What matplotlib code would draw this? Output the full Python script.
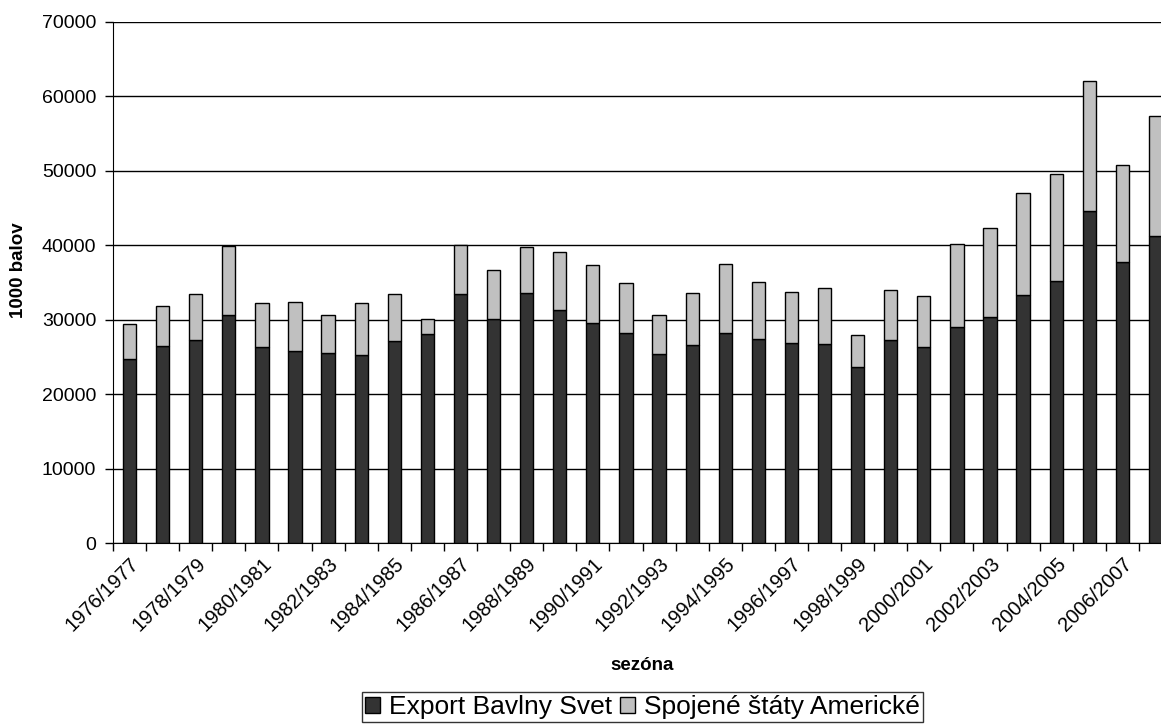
import matplotlib
matplotlib.use("Agg")
import matplotlib.pyplot as plt
import matplotlib.transforms as mtransforms
import numpy as np

seasons = ["1976/1977", "1977/1978", "1978/1979", "1979/1980", "1980/1981", "1981/1982",
           "1982/1983", "1983/1984", "1984/1985", "1985/1986", "1986/1987", "1987/1988",
           "1988/1989", "1989/1990", "1990/1991", "1991/1992", "1992/1993", "1993/1994",
           "1994/1995", "1995/1996", "1996/1997", "1997/1998", "1998/1999", "1999/2000",
           "2000/2001", "2001/2002", "2002/2003", "2003/2004", "2004/2005", "2005/2006",
           "2006/2007", "2007/2008"]

export_world = [24700, 26450, 27300, 30650, 26300, 25800, 25480, 25300, 27180, 28080,
                33420, 30100, 33600, 31350, 29600, 28250, 25430, 26600, 28170, 27400,
                26880, 26770, 23580, 27230, 26300, 29080, 30420, 33290, 35140, 44570,
                37770, 41240]
usa = [4680, 5440, 6200, 9270, 5910, 6540, 5200, 6910, 6320, 2060,
       6680, 6630, 6150, 7720, 7800, 6650, 5250, 6960, 9370, 7640,
       6790, 7530, 4300, 6700, 6850, 11100, 11880, 13730, 14380, 17520,
       12950, 16090]

W, H = 1161, 725
plt.rcParams['font.family'] = ['Liberation Sans', 'DejaVu Sans']
fig = plt.figure(figsize=(W / 100, H / 100), dpi=100)

left, right, bottom, top = 113, 1172, 543, 22
ax = fig.add_axes([left / W, (H - bottom) / H, (right - left) / W, (bottom - top) / H])

x = np.arange(len(seasons))
ax.bar(x, export_world, width=0.4, color='#333333', edgecolor='black', linewidth=1.0,
       label='Export Bavlny Svet', zorder=3)
ax.bar(x, usa, width=0.4, bottom=export_world, color='#C0C0C0', edgecolor='black',
       linewidth=1.0, label='Spojené štáty Americké', zorder=3)

ax.set_xlim(-0.5, len(seasons) - 0.5)
ax.set_ylim(0, 70000)
ax.set_yticks(np.arange(0, 70001, 10000))
ax.set_yticklabels([str(v) for v in range(0, 70001, 10000)], fontsize=14)
ax.yaxis.grid(True, color='black', linewidth=1.0, zorder=0)
ax.set_axisbelow(True)

ax.set_xticks(np.arange(-0.5, len(seasons), 1.0), minor=True)
ax.set_xticks(x[::2])
ax.set_xticklabels(seasons[::2], rotation=45, ha='right', va='top',
                   rotation_mode='anchor', fontsize=14.5)
shift = mtransforms.ScaledTranslation(-5 / 100, 0, fig.dpi_scale_trans)
for lbl in ax.get_xticklabels():
    lbl.set_transform(lbl.get_transform() + shift)
ax.tick_params(axis='x', which='major', length=0, pad=8)
ax.tick_params(axis='x', which='minor', length=6, width=1, direction='out', color='black')
ax.tick_params(axis='y', length=6, width=1, direction='out', color='black', pad=6)

for s in ['top', 'right']:
    ax.spines[s].set_visible(False)
ax.spines['left'].set_color('black')
ax.spines['bottom'].set_color('black')

cx = (left + right) / 2
fig.text(cx / W, 1 - 665 / H, 'sezóna', ha='center', va='center', fontsize=13.5,
         fontweight='bold')
fig.text(18.5 / W, 1 - 270 / H, '1000 balov', ha='center', va='center', rotation=90,
         fontsize=13.5, fontweight='bold')

leg = fig.legend(loc='upper center', bbox_to_anchor=(cx / W, 1 - 692 / H), ncol=2,
                 fontsize=19, frameon=True, fancybox=False, edgecolor='black',
                 handlelength=0.57, handleheight=0.57, handletextpad=0.34,
                 columnspacing=0.3, borderpad=0.12, borderaxespad=0.0)
leg.get_frame().set_linewidth(1.0)
for h in leg.legend_handles:
    h.set_edgecolor('black')

fig.savefig('out.png', dpi=100)
